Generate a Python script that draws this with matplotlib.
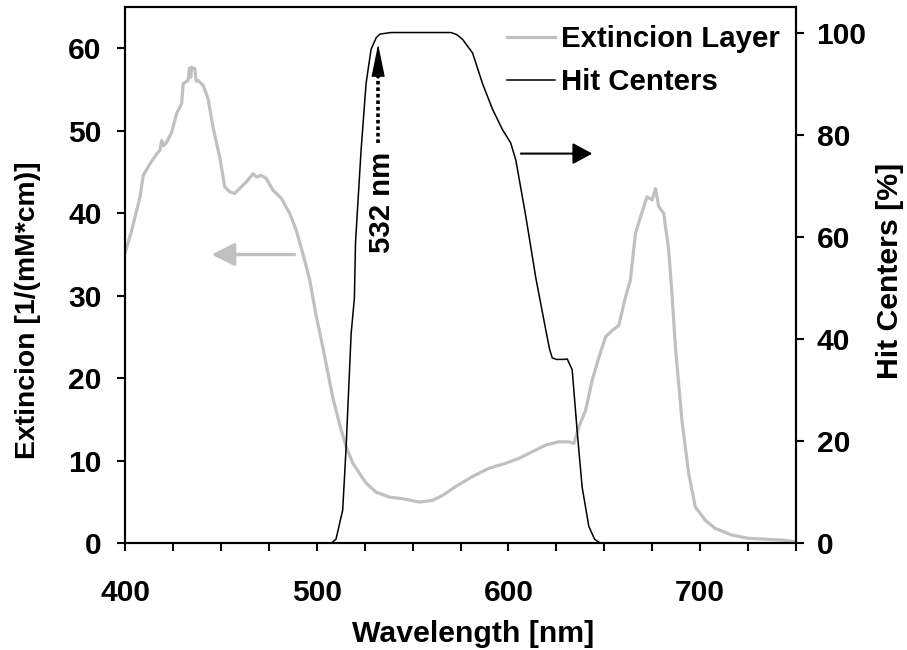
import matplotlib
matplotlib.use("Agg")
import matplotlib.pyplot as plt
from matplotlib.ticker import MultipleLocator

plt.rcParams['font.family'] = ['Liberation Sans', 'DejaVu Sans']
plt.rcParams['font.weight'] = 'bold'

# Extinction spectrum of the layer (left axis)
ext_wavelength = [400, 403.3, 407.7, 409.4, 412.9, 416.4, 418, 419, 420, 421.6,
                  424.2, 426.8, 429.4, 430.2, 432.8, 433.5, 434.2, 434.6, 436.3, 437,
                  438, 440.6, 443.2, 445.8, 449.3, 451.9, 454.5, 457.1, 459.7, 463.2,
                  466.7, 468.5, 471, 473.6, 477.1, 481.5, 485.8, 489.3, 492.7, 496.2,
                  499.7, 503.1, 508.3, 511.8, 515.3, 518.8, 522.2, 525.7, 530.9, 537.9,
                  544.8, 553.5, 560.4, 565.6, 572.6, 581.3, 589.9, 598.6, 605.6, 612.5,
                  619.5, 626.4, 631.6, 634.2, 636.8, 640.3, 643.8, 647.2, 650.7, 654.2,
                  657.6, 661.1, 663.7, 666.3, 668.9, 670.7, 672.4, 675, 676.8, 678.5,
                  681.1, 683.7, 685.4, 687.2, 690.6, 694.1, 697.6, 702.8, 708, 716.7,
                  725.4, 734, 742.7, 750]
ext_value = [35.3, 37.9, 42.0, 44.6, 46.0, 47.2, 47.6, 48.8, 48.2, 48.6,
             49.8, 52.1, 53.3, 55.7, 56.1, 57.6, 56.5, 57.7, 57.5, 56.0,
             56.1, 55.5, 53.9, 50.4, 46.8, 43.2, 42.6, 42.4, 43.0, 43.8,
             44.8, 44.4, 44.6, 44.2, 42.8, 41.8, 40.0, 37.9, 35.1, 32.0,
             27.5, 23.8, 17.7, 14.5, 11.7, 9.7, 8.5, 7.3, 6.2, 5.6,
             5.4, 5.0, 5.2, 5.8, 6.9, 8.1, 9.1, 9.7, 10.3, 11.1,
             11.9, 12.3, 12.3, 12.1, 14.1, 16.1, 19.8, 22.5, 25.0, 25.8,
             26.4, 29.8, 31.9, 37.5, 39.5, 40.8, 42.0, 41.6, 43.0, 40.8,
             40.0, 35.5, 30.3, 23.8, 14.9, 8.5, 4.4, 2.8, 1.8, 1.0,
             0.6, 0.5, 0.4, 0.2]

# Hit centers in percent (right axis)
hit_wavelength = [400, 507.5, 510, 513.5, 515.3, 517.9, 519.6, 520.2, 523.1, 525.7,
                  528.3, 531, 533, 538.7, 570, 573, 576, 581.3, 586.5, 591.7,
                  596.9, 601.2, 603.9, 609.1, 614.3, 619.5, 621.5, 622.9, 625, 629,
                  630.7, 633.3, 635.9, 638.5, 642, 645, 647.2, 650, 750]
hit_value = [0, 0, 0.8, 6.5, 19, 41, 48, 59, 77, 90,
             96.7, 99.0, 99.7, 100, 100, 99.6, 98.7, 96, 90, 85,
             81, 78.4, 75, 64, 52, 41.8, 38, 36.3, 36, 36,
             36.1, 34, 22, 11, 3.3, 0.8, 0.2, 0, 0]

x_ticks = [400, 500, 600, 700]
left_ticks = [0, 10, 20, 30, 40, 50, 60]
right_ticks = [0, 20, 40, 60, 80, 100]

laser_nm = 532
FS_TICK = 21.6
FS_LABEL = 21.8
FS_YLABEL = 20.4
FS_LEGEND = 21.2
GRAY = '#c0c0c0'

fig = plt.figure(figsize=(9.07, 6.5), dpi=100)
ax = fig.add_axes([125.3 / 907, 1 - 543.3 / 650, (795.7 - 125.3) / 907, (543.3 - 7) / 650])
ax2 = ax.twinx()

l1, = ax.plot(ext_wavelength, ext_value, color=GRAY, lw=2.3, label='Extincion Layer')
l2, = ax2.plot(hit_wavelength, hit_value, color='black', lw=1.1, label='Hit Centers')

ax.set_xlim(400, 750)
ax.set_ylim(0, 65)
ax2.set_ylim(0, 105)

ax.xaxis.set_minor_locator(MultipleLocator(25))
ax.set_xticks(x_ticks)
ax.set_yticks(left_ticks)
ax2.set_yticks(right_ticks)

for a in (ax, ax2):
    for s in a.spines.values():
        s.set_linewidth(1.5)
ax.tick_params(axis='x', which='both', direction='out', length=6, width=1.5,
               labelsize=FS_TICK, pad=20)
ax.tick_params(axis='y', which='both', direction='out', length=6, width=1.5,
               labelsize=FS_TICK, pad=11)
ax2.tick_params(axis='y', which='both', direction='out', length=6, width=1.5,
                labelsize=FS_TICK, pad=9)

ax.set_xlabel('Wavelength [nm]', fontsize=FS_LABEL, fontweight='bold')
ax.xaxis.set_label_coords((473 - 125.3) / 670.4, (543.3 - 634) / 536.3)
ax.xaxis.label.set_verticalalignment('center')

ax.set_ylabel('Extincion [1/(mM*cm)]', fontsize=FS_YLABEL, fontweight='bold')
ax.yaxis.set_label_coords((28 - 125.3) / 670.4, (543.3 - 310) / 536.3)
ax.yaxis.label.set_verticalalignment('center')

ax2.set_ylabel('Hit Centers [%]', fontsize=FS_LABEL, fontweight='bold', rotation=90)
ax2.yaxis.set_label_coords((890 - 125.3) / 670.4, (543.3 - 271) / 536.3)
ax2.yaxis.label.set_verticalalignment('center')
ax2.yaxis.label.set_horizontalalignment('center')

# Axis direction arrows
ax.annotate('', xy=(445, 35.0), xytext=(488.4, 35.0),
            arrowprops=dict(arrowstyle='-|>,head_length=14,head_width=7', mutation_scale=1,
                            lw=2.4, color=GRAY, shrinkA=0, shrinkB=0))
ax2.annotate('', xy=(643.8, 76.3), xytext=(606.5, 76.3),
             arrowprops=dict(arrowstyle='-|>,head_length=12,head_width=6.5', mutation_scale=1,
                             lw=1.5, color='black', shrinkA=0, shrinkB=0))

# Laser line marker
ax2.plot([laser_nm, laser_nm], [78.4, 91.5], color='black', lw=2.6,
         linestyle=(0, (1, 0.8)), solid_capstyle='butt')
ax2.annotate('', xy=(laser_nm, 97.7), xytext=(laser_nm, 91.0),
             arrowprops=dict(arrowstyle='-|>,head_length=21,head_width=4.3', mutation_scale=1,
                             lw=0.8, color='black', shrinkA=0, shrinkB=0))
ax2.annotate(f'{laser_nm} nm', xy=(laser_nm, 66.8), xytext=(3, 0),
             textcoords='offset points', rotation=90, ha='center', va='center',
             fontsize=FS_LEGEND, fontweight='bold')

ax2.legend([l1, l2], ['Extincion Layer', 'Hit Centers'], loc='upper left',
           bbox_to_anchor=((506.7 - 125.3) / 670.4, 1 - (25 - 7) / 536.3),
           frameon=False, prop={'weight': 'bold', 'size': FS_LEGEND},
           handlelength=1.65, handletextpad=0.2, labelspacing=0.52,
           borderaxespad=0, borderpad=0)

fig.savefig('out.png', dpi=100)
